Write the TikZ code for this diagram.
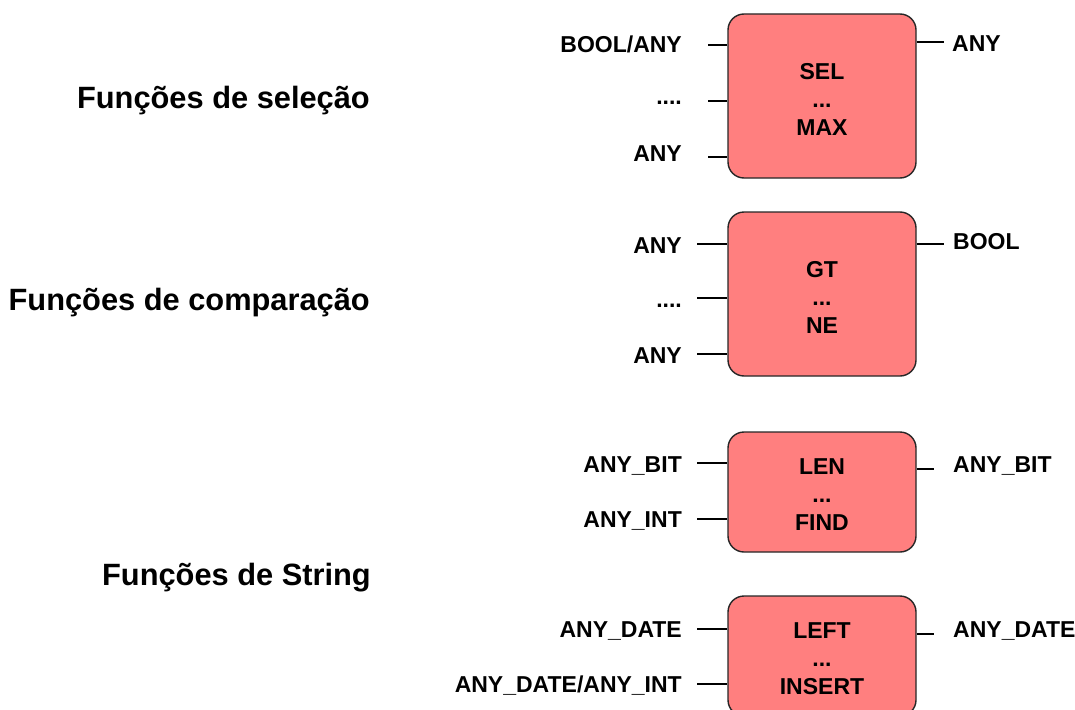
\documentclass[tikz,border=0pt]{standalone}
\usepackage{fontspec}
\setmainfont{Liberation Sans}
\begin{document}
\begin{tikzpicture}[x=1pt,y=-1pt,
  fblock/.style={draw=black!85, line width=1.4pt, fill=fblockred, rounded corners=16pt,
    minimum width=188pt, align=center, inner sep=0pt,
    font=\fontsize{23}{28}\selectfont\bfseries},
  pin/.style={line width=1.3pt, black},
  lbl/.style={inner sep=0pt, font=\fontsize{23}{27}\selectfont\bfseries},
  title/.style={inner sep=0pt, anchor=east, font=\fontsize{30.8}{36}\selectfont\bfseries}]
\definecolor{fblockred}{HTML}{FF7F7F}
\useasboundingbox (0,0) rectangle (1075,709);
\clip (0,0) rectangle (1075,709);

% group titles
\node[title] (t1) at (370,101) {Funções de seleção};
\node[title] (t2) at (370,303) {Funções de comparação};
\node[title] (t3) at (371,578) {Funções de String};

% function blocks
\node[fblock, minimum height=164pt] (b1) at (822,96) {};
\node[fblock, minimum height=164pt] (b2) at (822,294) {};
\node[fblock, minimum height=120pt] (b3) at (822,492) {};
\node[fblock, minimum height=120pt] (b4) at (822,656) {};
\node[fblock, draw=none, fill=none, minimum width=0pt] (n1) at (822,99) {SEL\\...\\MAX};
\node[fblock, draw=none, fill=none, minimum width=0pt] (n2) at (822,297) {GT\\...\\NE};
\node[fblock, draw=none, fill=none, minimum width=0pt] (n3) at (822,495) {LEN\\...\\FIND};
\node[fblock, draw=none, fill=none, minimum width=0pt] (n4) at (822,659) {LEFT\\...\\INSERT};

% block 1: inputs and output
\node[lbl, anchor=east] (i11) at (682,44) {BOOL/ANY};
\node[lbl, anchor=east] (i12) at (682,103) {....};
\node[lbl, anchor=east] (i13) at (682,154) {ANY};
\node[lbl, anchor=west] (o1) at (952,44) {ANY};
\coordinate (p11) at (708,45);
\coordinate (p12) at (708,101);
\coordinate (p13) at (708,157);
\coordinate (q1) at (944,42);
\draw[pin] (p11) -- (p11 -| b1.west);
\draw[pin] (p12) -- (p12 -| b1.west);
\draw[pin] (p13) -- (p13 -| b1.west);
\draw[pin] (q1 -| b1.east) -- (q1);

% block 2
\node[lbl, anchor=east] (i21) at (682,246) {ANY};
\node[lbl, anchor=east] (i22) at (682,306) {....};
\node[lbl, anchor=east] (i23) at (682,356) {ANY};
\node[lbl, anchor=west] (o2) at (953,242) {BOOL};
\coordinate (p21) at (697,244);
\coordinate (p22) at (697,298);
\coordinate (p23) at (697,354);
\coordinate (q2) at (944,244);
\draw[pin] (p21) -- (p21 -| b2.west);
\draw[pin] (p22) -- (p22 -| b2.west);
\draw[pin] (p23) -- (p23 -| b2.west);
\draw[pin] (q2 -| b2.east) -- (q2);

% block 3
\node[lbl, anchor=east] (i31) at (682,466) {ANY\_BIT};
\node[lbl, anchor=east] (i32) at (682,521) {ANY\_INT};
\node[lbl, anchor=west] (o3) at (953,466) {ANY\_BIT};
\coordinate (p31) at (697,463);
\coordinate (p32) at (697,519);
\coordinate (q3) at (934,469);
\draw[pin] (p31) -- (p31 -| b3.west);
\draw[pin] (p32) -- (p32 -| b3.west);
\draw[pin] (q3 -| b3.east) -- (q3);

% block 4
\node[lbl, anchor=east] (i41) at (682,631) {ANY\_DATE};
\node[lbl, anchor=east] (i42) at (682,686) {ANY\_DATE/ANY\_INT};
\node[lbl, anchor=west] (o4) at (953,631) {ANY\_DATE};
\coordinate (p41) at (697,629);
\coordinate (p42) at (697,684);
\coordinate (q4) at (934,634);
\draw[pin] (p41) -- (p41 -| b4.west);
\draw[pin] (p42) -- (p42 -| b4.west);
\draw[pin] (q4 -| b4.east) -- (q4);
\end{tikzpicture}
\end{document}
